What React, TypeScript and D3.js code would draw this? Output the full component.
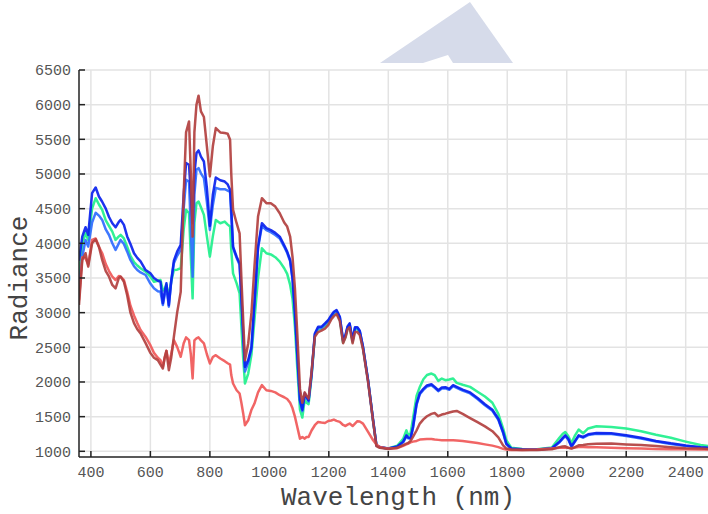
import React from 'react';
import * as d3 from 'd3';

// wavelength grid (nm)
const wavelengths = [
  360, 371, 382, 391, 404, 416, 427, 438, 450, 461,
  472, 483, 494, 500, 511, 522, 533, 545, 556, 567,
  584, 600, 612, 625, 634, 642, 648, 654, 662, 670,
  679, 690, 702, 712, 720, 730, 736, 742, 748, 755,
  762, 770, 780, 790, 800, 810, 820, 835, 850, 860,
  868, 872, 878, 890, 900, 906, 912, 918, 929, 940,
  950, 962, 975, 990, 1005, 1020, 1035, 1050, 1060, 1070,
  1078, 1086, 1094, 1103, 1111, 1119, 1125, 1132, 1142, 1153,
  1164, 1175, 1187, 1198, 1208, 1217, 1226, 1237, 1248, 1256,
  1263, 1270, 1280, 1288, 1296, 1304, 1315, 1332, 1349, 1360,
  1371, 1400, 1430, 1450, 1461, 1467, 1475, 1483, 1495, 1506,
  1518, 1530, 1545, 1556, 1568, 1580, 1592, 1605, 1618, 1630,
  1650, 1675, 1700, 1725, 1750, 1770, 1786, 1797, 1814, 1850,
  1900, 1950, 1976, 1986, 1995, 2005, 2016, 2028, 2040, 2055,
  2072, 2100, 2150, 2200, 2250, 2300, 2350, 2400, 2450, 2475,
];

const darkBlue = [
  3750, 4097, 4232, 4121, 4724, 4805, 4675, 4600, 4500, 4380,
  4290, 4232, 4310, 4338, 4266, 4100, 3990, 3857, 3790, 3740,
  3615, 3567, 3500, 3460, 3446, 3134, 3300, 3423, 3110, 3450,
  3750, 3880, 3977, 4700, 5157, 5133, 4700, 4290, 5000, 5302,
  5340, 5250, 5180, 4800, 4250, 4700, 4950, 4910, 4891, 4850,
  4771, 4500, 3952, 3808, 3712, 3230, 2700, 2218, 2315, 2507,
  3150, 3952, 4290, 4220, 4190, 4150, 4097, 3970, 3880, 3760,
  3500, 3000, 2400, 1737, 1600, 1838, 1785, 1737, 2122, 2700,
  2796, 2796, 2845, 2893, 2960, 3013, 3037, 2941, 2604, 2676,
  2800, 2845, 2604, 2790, 2790, 2740, 2507, 2026, 1448, 1087,
  1062, 1040, 1070, 1140, 1231, 1200, 1190, 1351, 1688, 1840,
  1900, 1950, 1968, 1929, 1881, 1920, 1925, 1900, 1954, 1930,
  1890, 1850, 1770, 1680, 1600, 1470, 1279, 1111, 1039, 1030,
  1025, 1045, 1140, 1190, 1231, 1180, 1072, 1150, 1231, 1207,
  1246, 1264, 1260, 1231, 1195, 1150, 1115, 1085, 1060, 1050,
];

const lightBlue = [
  3350, 3800, 4049, 3952, 4300, 4440, 4400, 4338, 4200, 4120,
  4001, 3905, 4000, 4049, 3990, 3880, 3760, 3670, 3615, 3580,
  3543, 3420, 3351, 3310, 3302, 3110, 3250, 3375, 3086, 3450,
  3712, 3820, 3905, 4500, 4916, 4891, 4200, 3519, 4700, 5061,
  5085, 5010, 4941, 4600, 4193, 4550, 4800, 4781, 4781, 4760,
  4740, 4400, 3930, 3790, 3690, 3200, 2650, 2150, 2280, 2480,
  3130, 3930, 4250, 4190, 4160, 4120, 4070, 3950, 3860, 3740,
  3480, 2980, 2380, 1720, 1580, 1820, 1770, 1720, 2100, 2680,
  2780, 2780, 2830, 2880, 2945, 3000, 3025, 2930, 2590, 2665,
  2790, 2835, 2595, 2780, 2780, 2730, 2500, 2020, 1440, 1085,
  1060, 1038, 1065, 1130, 1215, 1188, 1180, 1335, 1670, 1825,
  1885, 1935, 1952, 1915, 1868, 1905, 1910, 1888, 1940, 1915,
  1875, 1835, 1755, 1665, 1585, 1455, 1265, 1100, 1035, 1028,
  1023, 1042, 1130, 1180, 1220, 1170, 1065, 1140, 1220, 1197,
  1235, 1252, 1248, 1220, 1185, 1140, 1107, 1078, 1055, 1046,
];

const green = [
  3550, 4000, 4145, 4049, 4500, 4651, 4560, 4483, 4330, 4250,
  4169, 4049, 4100, 4121, 4070, 3950, 3820, 3730, 3680, 3640,
  3591, 3520, 3446, 3460, 3471, 3320, 3340, 3399, 3230, 3450,
  3615, 3620, 3640, 4200, 4483, 4434, 3800, 3206, 4300, 4579,
  4603, 4520, 4410, 4100, 3808, 4100, 4338, 4290, 4314, 4270,
  4242, 3900, 3567, 3423, 3279, 2800, 2350, 1978, 2122, 2400,
  2900, 3500, 3929, 3857, 3840, 3800, 3736, 3640, 3560, 3400,
  3200, 2800, 2200, 1600, 1487, 1750, 1700, 1680, 2080, 2660,
  2760, 2770, 2810, 2860, 2920, 2975, 2995, 2900, 2570, 2650,
  2770, 2810, 2580, 2760, 2760, 2710, 2490, 2020, 1440, 1085,
  1060, 1040, 1080, 1180, 1303, 1231, 1260, 1472, 1800, 1929,
  2040, 2100, 2122, 2098, 2016, 2050, 2026, 2035, 2050, 1987,
  1960, 1930, 1860, 1790, 1700, 1540, 1330, 1159, 1050, 1035,
  1030, 1055, 1200, 1250, 1279, 1220, 1120, 1230, 1314, 1260,
  1330, 1361, 1350, 1330, 1290, 1240, 1195, 1140, 1090, 1075,
];

const darkRed = [
  3110, 3760, 3857, 3664, 4001, 4059, 3952, 3760, 3600, 3519,
  3400, 3351, 3500, 3519, 3446, 3250, 3000, 2850, 2760, 2700,
  2560, 2420, 2350, 2315, 2250, 2195, 2350, 2449, 2170, 2350,
  2650, 3000, 3300, 4700, 5600, 5758, 5000, 4097, 5600, 6000,
  6130, 5903, 5822, 5400, 4964, 5400, 5662, 5600, 5590, 5581,
  5494, 5000, 4483, 4290, 4145, 3500, 2900, 2315, 2556, 3000,
  3664, 4386, 4651, 4579, 4579, 4530, 4434, 4300, 4242, 4097,
  3800, 3350, 2700, 1900, 1700, 1850, 1800, 1760, 2150, 2650,
  2720, 2740, 2770, 2820, 2900, 2950, 2980, 2880, 2560, 2640,
  2760, 2790, 2560, 2720, 2720, 2680, 2470, 2000, 1430, 1075,
  1050, 1035, 1050, 1090, 1110, 1120, 1150, 1207, 1300, 1400,
  1460, 1506, 1540, 1553, 1506, 1530, 1543, 1560, 1575, 1582,
  1540, 1480, 1420, 1360, 1290, 1200, 1087, 1040, 1025, 1020,
  1020, 1030, 1060, 1070, 1072, 1050, 1039, 1060, 1087, 1090,
  1101, 1108, 1111, 1100, 1090, 1075, 1060, 1045, 1039, 1035,
];

const lightRed = [
  3182, 3800, 3780, 3690, 4050, 4070, 3950, 3857, 3700, 3600,
  3519, 3471, 3528, 3520, 3471, 3300, 3100, 2960, 2850, 2750,
  2650, 2530, 2420, 2350, 2315, 2218, 2350, 2449, 2267, 2400,
  2604, 2507, 2363, 2560, 2643, 2604, 2400, 2050, 2600, 2628,
  2643, 2600, 2556, 2400, 2267, 2360, 2387, 2339, 2300, 2270,
  2250, 2100, 1978, 1881, 1834, 1700, 1550, 1376, 1448, 1600,
  1689, 1850, 1954, 1881, 1871, 1850, 1809, 1780, 1755, 1700,
  1620, 1500, 1351, 1183, 1207, 1183, 1207, 1207, 1300, 1376,
  1424, 1415, 1409, 1438, 1445, 1458, 1440, 1424, 1380, 1365,
  1385, 1400, 1365, 1400, 1435, 1430, 1400, 1279, 1160, 1100,
  1062, 1039, 1045, 1080, 1100, 1111, 1130, 1140, 1150, 1169,
  1175, 1178, 1178, 1170, 1165, 1160, 1159, 1160, 1159, 1155,
  1148, 1135, 1120, 1100, 1082, 1060, 1035, 1025, 1020, 1020,
  1025, 1040, 1050, 1053, 1055, 1050, 1045, 1055, 1062, 1062,
  1060, 1058, 1050, 1045, 1040, 1035, 1030, 1028, 1025, 1025,
];

const xTicks = [400, 600, 800, 1000, 1200, 1400, 1600, 1800, 2000, 2200, 2400];
const yTicks = [1000, 1500, 2000, 2500, 3000, 3500, 4000, 4500, 5000, 5500, 6000, 6500];

const series = [
  { name: 'green', values: green, color: '#1ff08c' },
  { name: 'lightBlue', values: lightBlue, color: '#2f6cff' },
  { name: 'darkBlue', values: darkBlue, color: '#0a22ee' },
  { name: 'lightRed', values: lightRed, color: '#f05858' },
  { name: 'darkRed', values: darkRed, color: '#b2403f' },
];

const W = 708;
const H = 514;
const left = 79;
const right = 708;
const top = 70;
const bottom = 457;
const font = '"Courier New", "Liberation Mono", monospace';

export default function App() {
  const x = d3.scaleLinear().domain([360, 2475]).range([left, right]);
  const y = d3.scaleLinear().domain([918, 6500]).range([bottom, top]);

  const line = (vals: number[]) =>
    d3.line<number>()
      .x((_, i) => x(wavelengths[i]))
      .y(d => y(d))(vals) || '';

  return (
    <svg width={W} height={H} style={{ position: 'absolute', left: 0, top: 0, background: '#fff' }}>
      <defs>
        <clipPath id="plot">
          <rect x={left} y={top - 2} width={right - left} height={bottom - top + 2} />
        </clipPath>
      </defs>

      {/* watermark */}
      <polygon points="380,63 470,2 513,63" fill="#d6dbea" />
      <polygon points="423,63 448,55 453,63" fill="#fff" />

      {/* grid */}
      <g stroke="#e3e3e3" strokeWidth={1.5}>
        {yTicks.map(t => (
          <line key={'gy' + t} x1={left} x2={right} y1={y(t)} y2={y(t)} />
        ))}
        {xTicks.map(t => (
          <line key={'gx' + t} x1={x(t)} x2={x(t)} y1={top} y2={bottom} />
        ))}
      </g>

      <g clipPath="url(#plot)" fill="none" strokeWidth={2.5} strokeLinejoin="round">
        {series.map(s => (
          <path key={s.name} d={line(s.values)} stroke={s.color} strokeOpacity={0.92} />
        ))}
      </g>

      {/* axes */}
      <g stroke="#222" strokeWidth={1.5}>
        <line x1={left} x2={left} y1={top} y2={bottom} />
        <line x1={left} x2={right} y1={bottom} y2={bottom} />
        {yTicks.map(t => (
          <line key={'ty' + t} x1={left} x2={left + 6} y1={y(t)} y2={y(t)} />
        ))}
        {xTicks.map(t => (
          <line key={'tx' + t} x1={x(t)} x2={x(t)} y1={bottom} y2={bottom - 6} />
        ))}
      </g>

      <g fontFamily={font} fontSize={15} fill="#555">
        {yTicks.map(t => (
          <text key={'ly' + t} x={left - 8} y={y(t)} dy="0.35em" textAnchor="end">{t}</text>
        ))}
        {xTicks.map(t => (
          <text key={'lx' + t} x={x(t)} y={477} textAnchor="middle">{t}</text>
        ))}
      </g>

      <text x={398} y={505} textAnchor="middle" fontFamily={font} fontSize={26} fill="#444">
        Wavelength (nm)
      </text>
      <text transform="translate(27,278) rotate(-90)" textAnchor="middle" fontFamily={font} fontSize={26} fill="#444">
        Radiance
      </text>
    </svg>
  );
}
